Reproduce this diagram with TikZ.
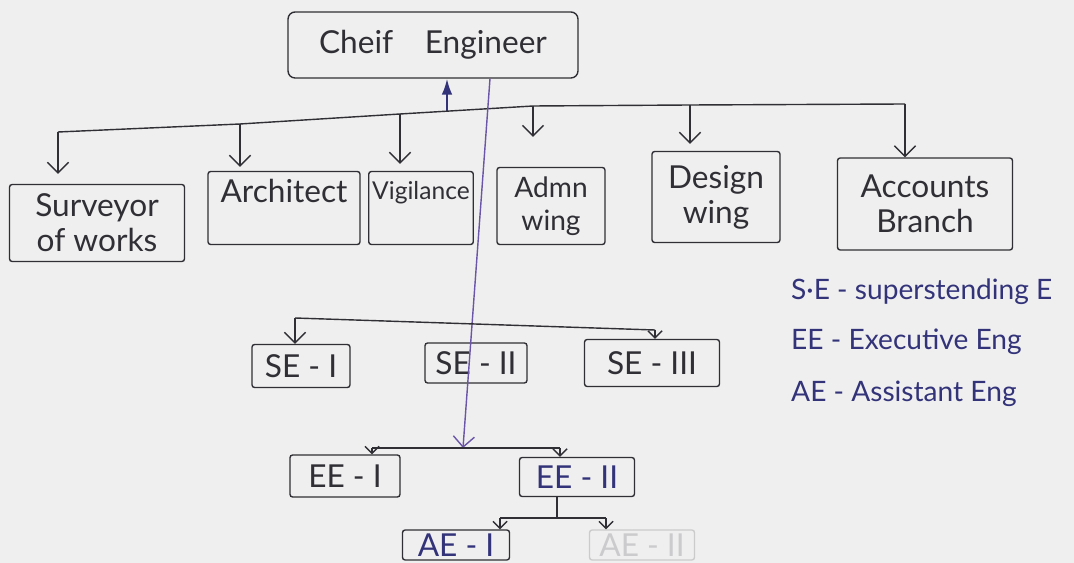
\documentclass[tikz,border=0pt]{standalone}
\usepackage{fontspec}
\setmainfont{Lato}
\usetikzlibrary{arrows.meta, positioning, calc}
\definecolor{inkblack}{HTML}{2f2f35}
\definecolor{inkpurple}{HTML}{6a55a8}
\definecolor{inkblue}{HTML}{33337a}
\definecolor{paper}{HTML}{efefef}

\begin{document}
\begin{tikzpicture}[
    x=0.02cm, y=-0.02cm,
    box/.style={rectangle, draw=inkblack, thick, align=center, inner sep=2pt, text=inkblack, font=\fontsize{18}{20}\selectfont, rounded corners=1.5pt},
    arrow/.style={-{Straight Barb[length=6pt, width=12pt]}, thick, inkblack},
    smallarrow/.style={-{Straight Barb[length=4pt, width=8pt]}, thick, inkblack},
    bus/.style={thick, inkblack},
    uparrow/.style={-{Latex[length=9pt, width=6pt]}, very thick, inkblue},
    longline/.style={-{Straight Barb[length=6pt, width=12pt]}, thick, inkpurple},
    abbr/.style={anchor=west, font=\fontsize{16}{18}\selectfont, text=inkblue}
]

\fill[paper] (0,0) rectangle (1074,563);
\useasboundingbox (0,0) rectangle (1074,563);

\node[box, minimum width=5.8cm, minimum height=1.32cm, rounded corners=4pt] (chief) at (433,45) {Cheif\quad Engineer};

\node[box, minimum width=3.5cm, minimum height=1.54cm] (surv) at (97,223) {Surveyor\\of works};
\node[box, minimum width=3.04cm, minimum height=1.46cm] (arch) at (284,208) {Architect\\~};
\node[box, minimum width=2.04cm, minimum height=1.46cm, font=\fontsize{14}{20}\selectfont] (vig) at (421,208) {Vigilance\\~};
\node[box, minimum width=2.16cm, minimum height=1.54cm, font=\fontsize{16}{19}\selectfont] (admn) at (551,206) {Admn\\wing};
\node[box, minimum width=2.56cm, minimum height=1.82cm] (design) at (716,197) {Design\\wing};
\node[box, minimum width=3.5cm, minimum height=1.84cm] (acc) at (925,204) {Accounts\\Branch};

\node[box, minimum width=1.96cm, minimum height=0.86cm] (se1) at (301,366) {SE - I};
\node[box, minimum width=2.04cm, minimum height=0.8cm] (se2) at (476,363) {SE - II};
\node[box, minimum width=2.7cm, minimum height=0.94cm] (se3) at (652,363) {SE - III};

\node[box, minimum width=2.2cm, minimum height=0.84cm] (ee1) at (345,476) {EE - I};
\node[box, minimum width=2.3cm, minimum height=0.78cm, text=inkblue] (ee2) at (577,477) {EE - II};

\node[box, minimum width=2.14cm, minimum height=0.6cm, inner sep=1pt, text=inkblue] (ae1) at (456,545) {AE - I};
\node[box, minimum width=2.1cm, minimum height=0.6cm, inner sep=1pt, draw=inkblack!25, text=inkblack!25] (ae2) at (642,545) {AE - II};

\node[abbr] (kse) at (785,292) {S·E - superstending E};
\node[abbr] (kee) at (785,342) {EE - Executive Eng};
\node[abbr] (kae) at (785,394) {AE - Assistant Eng};

\coordinate (top) at (447,111);
\draw[uparrow] (top) -- (chief.south -| top);
\foreach \n/\x/\y/\s in {surv/58/132/5.7pt, arch/240/124/2.3pt, vig/400/114/4pt, admn/533/106/17pt, design/690/105/4pt, acc/905/104/0pt} {
  \coordinate (d\n) at (\x,\y);
  \draw[arrow, shorten >=\s] (d\n) -- (\n.north -| d\n);
}
\draw[bus] (dsurv) -- (darch) -- (dvig) -- (dadmn) -- (ddesign) -- (dacc);

\coordinate (eeM) at (463,448);
\draw[longline] ([xshift=1.14cm]chief.south) -- (eeM);

\coordinate (seL) at (295,318);
\coordinate (seR) at (655,330);
\draw[bus] (seL) -- (seR);
\draw[arrow] (seL) -- (se1.north -| seL);
\draw[smallarrow] (seR) -- (se3.north -| seR);

\coordinate (eeL) at (372,448);
\coordinate (eeR) at (560,448);
\draw[bus] (eeL) -- (eeR);
\draw[smallarrow] (eeL) -- (ee1.north -| eeL);
\draw[smallarrow] (eeR) -- (ee2.north -| eeR);

\coordinate (aeM) at (557,518);
\coordinate (aeL) at (500,518);
\coordinate (aeR) at (606,518);
\draw[bus] (ee2.south -| aeM) -- (aeM);
\draw[bus] (aeL) -- (aeR);
\draw[smallarrow] (aeL) -- (ae1.north -| aeL);
\draw[smallarrow] (aeR) -- (ae2.north -| aeR);
\end{tikzpicture}
\end{document}
